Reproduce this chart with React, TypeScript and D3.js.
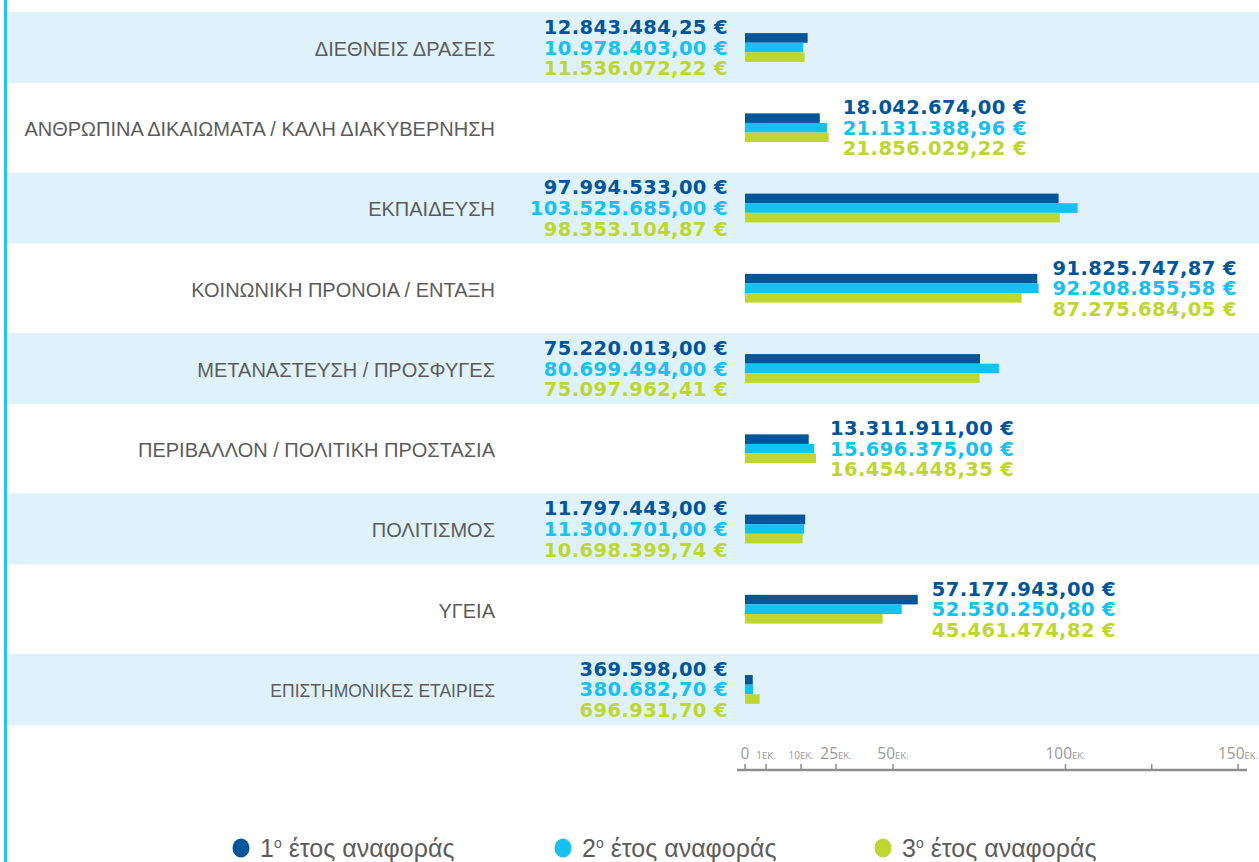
import React, { useEffect, useRef } from 'react';
import * as d3 from 'd3';

const categories = [
    "ΔΙΕΘΝΕΙΣ ΔΡΑΣΕΙΣ",
    "ΑΝΘΡΩΠΙΝΑ ΔΙΚΑΙΩΜΑΤΑ / ΚΑΛΗ ΔΙΑΚΥΒΕΡΝΗΣΗ",
    "ΕΚΠΑΙΔΕΥΣΗ",
    "ΚΟΙΝΩΝΙΚΗ ΠΡΟΝΟΙΑ / ΕΝΤΑΞΗ",
    "ΜΕΤΑΝΑΣΤΕΥΣΗ / ΠΡΟΣΦΥΓΕΣ",
    "ΠΕΡΙΒΑΛΛΟΝ / ΠΟΛΙΤΙΚΗ ΠΡΟΣΤΑΣΙΑ",
    "ΠΟΛΙΤΙΣΜΟΣ",
    "ΥΓΕΙΑ",
    "ΕΠΙΣΤΗΜΟΝΙΚΕΣ ΕΤΑΙΡΙΕΣ",
];

const year1 = [12843484.25, 18042674.0, 97994533.0, 91825747.87, 75220013.0, 13311911.0, 11797443.0, 57177943.0, 369598.0];
const year2 = [10978403.0, 21131388.96, 103525685.0, 92208855.58, 80699494.0, 15696375.0, 11300701.0, 52530250.8, 380682.7];
const year3 = [11536072.22, 21856029.22, 98353104.87, 87275684.05, 75097962.41, 16454448.35, 10698399.74, 45461474.82, 696931.7];

const seriesKeys = ["y1", "y2", "y3"];
const legendNumbers = ["1", "2", "3"];
const seriesColors = ["#00559b", "#14c1f2", "#bed730"];

// millions
const axisTicks = [0, 1, 10, 25, 50, 100, 125, 150];
const axisTickLabels = ["0", "1", "10", "25", "50", "100", "", "150"];

const W = 1259;
const H = 862;

const App = () => {
    const svgRef = useRef(null);

    useEffect(() => {
        const svg = d3.select(svgRef.current);
        svg.selectAll("*").remove();

        const locale = d3.formatLocale({ decimal: ",", thousands: ".", grouping: [3], currency: ["", " €"] });
        const fmt = locale.format(",.2f");

        // the original axis is piecewise: small amounts get more room
        const x = d3.scaleLinear()
            .domain([0, 1, 10, 25, 50, 150])
            .range([745, 766, 801, 836, 893, 1238]);

        const y = d3.scaleBand().domain(categories).range([7.4, 729.6]);
        const yInner = d3.scaleBand().domain(seriesKeys).range([-14.4, 14.4]);

        const rows = categories.map((c, i) => ({
            name: c,
            i,
            values: [year1[i], year2[i], year3[i]],
            cy: y(c) + y.bandwidth() / 2,
        }));

        // left edge line
        svg.append("rect")
            .attr("x", 4).attr("y", 0).attr("width", 3).attr("height", H)
            .attr("fill", "#1ec8f4");

        // shaded bands
        svg.append("g")
            .selectAll("rect")
            .data(rows.filter(r => r.i % 2 === 0))
            .join("rect")
            .attr("x", 7)
            .attr("y", r => r.cy - 35.5)
            .attr("width", W - 7)
            .attr("height", 71)
            .attr("fill", "#dff2fa");

        // category labels
        svg.append("g")
            .attr("font-family", "'Liberation Sans Narrow', 'Liberation Sans', sans-serif")
            .attr("fill", "#5c5c5c")
            .attr("text-anchor", "end")
            .selectAll("text")
            .data(rows)
            .join("text")
            .attr("x", 495)
            .attr("y", r => r.cy)
            .attr("dy", "0.42em")
            .attr("font-size", r => r.i === categories.length - 1 ? 17.5 : 20)
            .text(r => r.name);

        // bars
        const barG = svg.append("g");
        rows.forEach(r => {
            barG.selectAll(null)
                .data(r.values)
                .join("rect")
                .attr("x", x(0))
                .attr("y", (v, k) => r.cy + yInner(seriesKeys[k]))
                .attr("width", v => x(v / 1e6) - x(0))
                .attr("height", yInner.bandwidth())
                .attr("fill", (v, k) => seriesColors[k]);
        });

        // value labels, alternating left / right
        const valG = svg.append("g")
            .attr("font-family", "'DejaVu Sans', sans-serif")
            .attr("font-weight", 700)
            .attr("font-size", 19.5)
            .attr("letter-spacing", 0.4);
        rows.forEach(r => {
            const left = r.i % 2 === 0;
            const tx = left ? 728 : x(d3.max(r.values) / 1e6) + 14;
            valG.selectAll(null)
                .data(r.values)
                .join("text")
                .attr("x", tx)
                .attr("y", (v, k) => r.cy + (k - 1) * 20.7)
                .attr("dy", "0.36em")
                .attr("text-anchor", left ? "end" : "start")
                .attr("fill", (v, k) => seriesColors[k])
                .text(v => fmt(v) + " €");
        });

        // axis
        const axisY = 770;
        const axG = svg.append("g").attr("font-family", "'Open Sans', sans-serif").attr("fill", "#9a9a9a");
        axG.append("line")
            .attr("x1", 737).attr("x2", 1247)
            .attr("y1", axisY).attr("y2", axisY)
            .attr("stroke", "#8e8e8e").attr("stroke-width", 2.5);
        axG.selectAll("line.tick")
            .data(axisTicks)
            .join("line")
            .attr("class", "tick")
            .attr("x1", d => x(d)).attr("x2", d => x(d))
            .attr("y1", axisY - 6).attr("y2", axisY)
            .attr("stroke", "#8e8e8e").attr("stroke-width", 1.5);
        const lbl = axG.selectAll("text")
            .data(axisTicks.map((t, k) => ({ t, label: axisTickLabels[k] })).filter(d => d.label))
            .join("text")
            .attr("x", d => x(d.t))
            .attr("y", 759)
            .attr("text-anchor", "middle");
        lbl.append("tspan")
            .attr("font-size", d => (d.t > 0 && d.t < 25 ? 10 : 15.5))
            .text(d => d.label);
        lbl.filter(d => d.t > 0)
            .append("tspan")
            .attr("font-size", 9.5)
            .text("ΕΚ.");

        // legend
        const legX = [241, 563, 883];
        const leg = svg.append("g")
            .attr("font-family", "'Liberation Sans Narrow', 'Liberation Sans', sans-serif")
            .selectAll("g")
            .data(legendNumbers)
            .join("g")
            .attr("transform", (d, k) => `translate(${legX[k]},848)`);
        leg.append("ellipse")
            .attr("rx", 8.5).attr("ry", 9.5)
            .attr("fill", (d, k) => seriesColors[k]);
        const lt = leg.append("text")
            .attr("x", 19)
            .attr("y", 9)
            .attr("fill", "#5c5c5c")
            .attr("font-size", 25);
        lt.append("tspan").text(d => d);
        lt.append("tspan").attr("font-size", 14).attr("dy", -9).text("ο");
        lt.append("tspan").attr("dy", 9).text(" έτος αναφοράς");
    }, []);

    return (
        <svg
            ref={svgRef}
            width={W}
            height={H}
            style={{ position: "absolute", left: 0, top: 0, display: "block", background: "#fff" }}
        />
    );
};

export default App;
